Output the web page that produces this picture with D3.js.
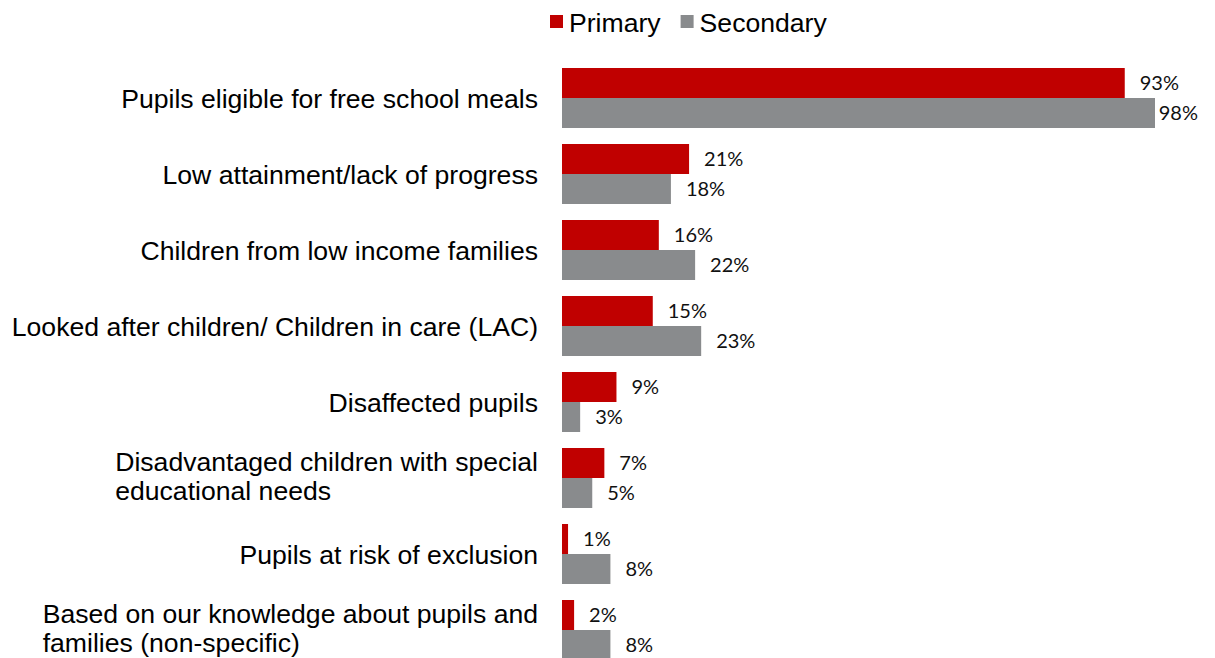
<!DOCTYPE html>
<html>
<head>
<meta charset="utf-8">
<script src="https://cdn.jsdelivr.net/npm/d3@7"></script>
<style>
  html, body { margin: 0; padding: 0; background: #fff; }
  svg { display: block; }
</style>
</head>
<body>
<svg id="chart" width="1215" height="658"></svg>
<script>
// Groups targeted, with primary and secondary school shares (%)
const categories = [
  ["Pupils eligible for free school meals"],
  ["Low attainment/lack of progress"],
  ["Children from low income families"],
  ["Looked after children/ Children in care (LAC)"],
  ["Disaffected pupils"],
  ["Disadvantaged children with special", "educational needs"],
  ["Pupils at risk of exclusion"],
  ["Based on our knowledge about pupils and", "families (non-specific)"]
];
const primary   = [93, 21, 16, 15, 9, 7, 1, 2];
const secondary = [98, 18, 22, 23, 3, 5, 8, 8];
const seriesNames = ["Primary", "Secondary"];
const seriesColors = ["#C00000", "#898B8D"];

const svg = d3.select("#chart");
const labelFont = "'Liberation Sans', Arial, sans-serif";
const labelSize = 26.6;

const keys = categories.map(c => c.join(" "));
const y = d3.scaleBand()
  .domain(keys)
  .range([60, 668])
  .paddingInner(16 / 76)
  .paddingOuter(8 / 76);

const ySub = d3.scaleBand()
  .domain(seriesNames)
  .range([0, y.bandwidth()]);

const x = d3.scaleLinear()
  .domain([0, 98])
  .range([562, 1155]);

const rows = keys.map((k, i) => ({
  key: k,
  lines: categories[i],
  values: [primary[i], secondary[i]]
}));

const group = svg.append("g").selectAll("g.row")
  .data(rows)
  .join("g")
  .attr("class", "row")
  .attr("transform", d => `translate(0,${y(d.key)})`);

// Bars
group.selectAll("rect")
  .data(d => d.values.map((v, j) => ({ v, s: seriesNames[j], c: seriesColors[j] })))
  .join("rect")
  .attr("x", x(0))
  .attr("y", d => ySub(d.s))
  .attr("width", d => x(d.v) - x(0))
  .attr("height", ySub.bandwidth())
  .attr("fill", d => d.c);

// Value labels, kept inside the right edge
group.selectAll("text.val")
  .data(d => d.values.map((v, j) => ({ v, s: seriesNames[j] })))
  .join("text")
  .attr("class", "val")
  .attr("y", d => ySub(d.s) + ySub.bandwidth() / 2)
  .attr("dy", "0.36em")
  .attr("font-family", "Lato, 'Open Sans', sans-serif")
  .attr("font-size", 20)
  .attr("fill", "#111")
  .text(d => d.v + "%")
  .attr("x", function (d) {
    const w = this.getComputedTextLength();
    return Math.min(x(d.v) + 15, 1198 - w);
  });

// Category labels: block right-aligned to the bars, lines left-aligned
const lab = group.append("text")
  .attr("font-family", labelFont)
  .attr("font-size", labelSize)
  .attr("fill", "#000");

lab.selectAll("tspan")
  .data(d => d.lines.map((t, i) => ({ t, i, n: d.lines.length })))
  .join("tspan")
  .attr("y", d => y.bandwidth() / 2 + (d.i - (d.n - 1) / 2) * 29 - (d.n > 1 ? 2 : 0))
  .attr("dy", "0.36em")
  .text(d => d.t);

lab.each(function () {
  const spans = d3.select(this).selectAll("tspan");
  let maxW = 0;
  spans.each(function () { maxW = Math.max(maxW, this.getComputedTextLength()); });
  spans.attr("x", 538 - maxW);
});

// Legend
const legend = svg.append("g").attr("transform", "translate(550,22)");
let lx = 0;
seriesNames.forEach((name, i) => {
  const item = legend.append("g").attr("transform", `translate(${lx},0)`);
  item.append("rect")
    .attr("x", 0).attr("y", -7)
    .attr("width", 13).attr("height", 13)
    .attr("fill", seriesColors[i]);
  const t = item.append("text")
    .attr("x", 19)
    .attr("dy", "0.36em")
    .attr("font-family", labelFont)
    .attr("font-size", labelSize)
    .attr("fill", "#000")
    .text(name);
  lx += 19 + t.node().getComputedTextLength() + 20;
});
</script>
</body>
</html>
